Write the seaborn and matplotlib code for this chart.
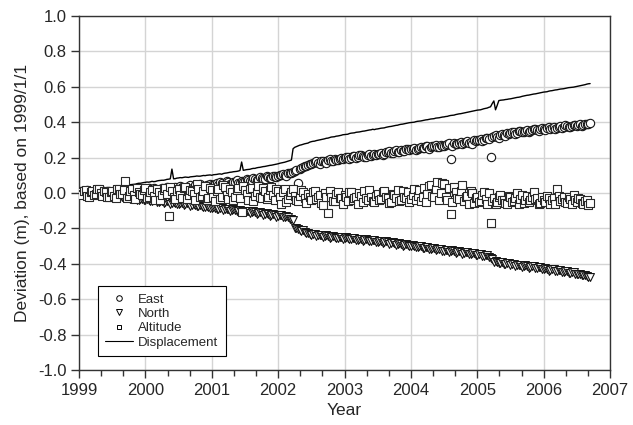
import matplotlib
matplotlib.use("Agg")
import matplotlib.pyplot as plt
from matplotlib.lines import Line2D
from matplotlib.ticker import AutoMinorLocator, MultipleLocator, FormatStrFormatter
import pandas as pd
import seaborn as sns

# sampling epochs (decimal year), two interleaved sets
years = [
    1999.00, 1999.05, 1999.10, 1999.15, 1999.20, 1999.25, 1999.30, 1999.35, 1999.40, 1999.45,
    1999.50, 1999.55, 1999.60, 1999.65, 1999.70, 1999.75, 1999.80, 1999.85, 1999.90, 1999.95,
    2000.00, 2000.05, 2000.10, 2000.15, 2000.20, 2000.25, 2000.30, 2000.35, 2000.40, 2000.45,
    2000.50, 2000.55, 2000.60, 2000.65, 2000.70, 2000.75, 2000.80, 2000.85, 2000.90, 2000.95,
    2001.00, 2001.05, 2001.10, 2001.15, 2001.20, 2001.25, 2001.30, 2001.35, 2001.40, 2001.45,
    2001.50, 2001.55, 2001.60, 2001.65, 2001.70, 2001.75, 2001.80, 2001.85, 2001.90, 2001.95,
    2002.00, 2002.05, 2002.10, 2002.15, 2002.20, 2002.25, 2002.30, 2002.35, 2002.40, 2002.45,
    2002.50, 2002.55, 2002.60, 2002.65, 2002.70, 2002.75, 2002.80, 2002.85, 2002.90, 2002.95,
    2003.00, 2003.05, 2003.10, 2003.15, 2003.20, 2003.25, 2003.30, 2003.35, 2003.40, 2003.45,
    2003.50, 2003.55, 2003.60, 2003.65, 2003.70, 2003.75, 2003.80, 2003.85, 2003.90, 2003.95,
    2004.00, 2004.05, 2004.10, 2004.15, 2004.20, 2004.25, 2004.30, 2004.35, 2004.40, 2004.45,
    2004.50, 2004.55, 2004.60, 2004.65, 2004.70, 2004.75, 2004.80, 2004.85, 2004.90, 2004.95,
    2005.00, 2005.05, 2005.10, 2005.15, 2005.20, 2005.25, 2005.30, 2005.35, 2005.40, 2005.45,
    2005.50, 2005.55, 2005.60, 2005.65, 2005.70, 2005.75, 2005.80, 2005.85, 2005.90, 2005.95,
    2006.00, 2006.05, 2006.10, 2006.15, 2006.20, 2006.25, 2006.30, 2006.35, 2006.40, 2006.45,
    2006.50, 2006.55, 2006.60, 2006.65, 2006.70,
]
years_mid = [
    1999.025, 1999.075, 1999.125, 1999.175, 1999.225, 1999.275, 1999.325, 1999.375, 1999.425, 1999.475,
    1999.525, 1999.575, 1999.625, 1999.675, 1999.725, 1999.775, 1999.825, 1999.875, 1999.925, 1999.975,
    2000.025, 2000.075, 2000.125, 2000.175, 2000.225, 2000.275, 2000.325, 2000.375, 2000.425, 2000.475,
    2000.525, 2000.575, 2000.625, 2000.675, 2000.725, 2000.775, 2000.825, 2000.875, 2000.925, 2000.975,
    2001.025, 2001.075, 2001.125, 2001.175, 2001.225, 2001.275, 2001.325, 2001.375, 2001.425, 2001.475,
    2001.525, 2001.575, 2001.625, 2001.675, 2001.725, 2001.775, 2001.825, 2001.875, 2001.925, 2001.975,
    2002.025, 2002.075, 2002.125, 2002.175, 2002.225, 2002.275, 2002.325, 2002.375, 2002.425, 2002.475,
    2002.525, 2002.575, 2002.625, 2002.675, 2002.725, 2002.775, 2002.825, 2002.875, 2002.925, 2002.975,
    2003.025, 2003.075, 2003.125, 2003.175, 2003.225, 2003.275, 2003.325, 2003.375, 2003.425, 2003.475,
    2003.525, 2003.575, 2003.625, 2003.675, 2003.725, 2003.775, 2003.825, 2003.875, 2003.925, 2003.975,
    2004.025, 2004.075, 2004.125, 2004.175, 2004.225, 2004.275, 2004.325, 2004.375, 2004.425, 2004.475,
    2004.525, 2004.575, 2004.625, 2004.675, 2004.725, 2004.775, 2004.825, 2004.875, 2004.925, 2004.975,
    2005.025, 2005.075, 2005.125, 2005.175, 2005.225, 2005.275, 2005.325, 2005.375, 2005.425, 2005.475,
    2005.525, 2005.575, 2005.625, 2005.675, 2005.725, 2005.775, 2005.825, 2005.875, 2005.925, 2005.975,
    2006.025, 2006.075, 2006.125, 2006.175, 2006.225, 2006.275, 2006.325, 2006.375, 2006.425, 2006.475,
    2006.525, 2006.575, 2006.625, 2006.675,
]

east = [
    0.000, 0.006, -0.004, 0.008, 0.003, 0.012, 0.001, 0.010, 0.004, 0.014,
    0.008, 0.016, 0.006, 0.018, 0.011, 0.020, 0.009, 0.022, 0.014, 0.019,
    0.017, 0.026, 0.012, 0.024, 0.018, 0.030, 0.015, 0.027, 0.021, 0.033,
    0.025, 0.036, 0.028, 0.040, 0.031, 0.045, 0.034, 0.041, 0.038, 0.047,
    0.044, 0.052, 0.046, 0.058, 0.050, 0.061, 0.055, 0.064, 0.058, 0.068,
    0.066, 0.074, 0.070, 0.080, 0.075, 0.086, 0.081, 0.090, 0.087, 0.095,
    0.096, 0.104, 0.101, 0.111, 0.113, 0.124, 0.055, 0.142, 0.150, 0.160,
    0.166, 0.174, 0.170, 0.180, 0.176, 0.186, 0.182, 0.192, 0.188, 0.196,
    0.198, 0.204, 0.196, 0.208, 0.203, 0.212, 0.206, 0.217, 0.211, 0.220,
    0.218, 0.226, 0.221, 0.232, 0.227, 0.238, 0.232, 0.244, 0.238, 0.249,
    0.247, 0.254, 0.249, 0.260, 0.255, 0.263, 0.258, 0.268, 0.262, 0.272,
    0.268, 0.276, 0.190, 0.282, 0.275, 0.288, 0.281, 0.292, 0.286, 0.298,
    0.297, 0.304, 0.300, 0.312, 0.205, 0.322, 0.318, 0.330, 0.326, 0.340,
    0.337, 0.346, 0.341, 0.352, 0.346, 0.356, 0.350, 0.360, 0.355, 0.363,
    0.362, 0.368, 0.361, 0.372, 0.366, 0.376, 0.370, 0.380, 0.374, 0.384,
    0.380, 0.388, 0.383, 0.392, 0.395,
]
east_mid = [
    0.010, -0.002, 0.015, 0.000, 0.007, -0.003, 0.016, 0.002, 0.011, 0.005,
    0.003, 0.013, 0.019, 0.004, 0.024, 0.012, 0.017, 0.006, 0.025, 0.013,
    0.010, 0.021, 0.031, 0.014, 0.022, 0.009, 0.035, 0.020, 0.028, 0.018,
    0.041, 0.022, 0.033, 0.046, 0.026, 0.039, 0.050, 0.030, 0.044, 0.052,
    0.040, 0.057, 0.062, 0.047, 0.068, 0.052, 0.060, 0.071, 0.054, 0.063,
    0.079, 0.065, 0.084, 0.072, 0.090, 0.078, 0.094, 0.084, 0.098, 0.090,
    0.099, 0.108, 0.097, 0.115, 0.118, 0.130, 0.136, 0.146, 0.155, 0.163,
    0.169, 0.178, 0.165, 0.183, 0.172, 0.190, 0.179, 0.186, 0.194, 0.190,
    0.201, 0.192, 0.210, 0.199, 0.215, 0.208, 0.202, 0.222, 0.213, 0.216,
    0.222, 0.215, 0.230, 0.236, 0.224, 0.242, 0.229, 0.237, 0.250, 0.243,
    0.250, 0.244, 0.257, 0.252, 0.266, 0.251, 0.263, 0.272, 0.259, 0.267,
    0.271, 0.282, 0.266, 0.279, 0.285, 0.274, 0.290, 0.284, 0.278, 0.293,
    0.301, 0.295, 0.308, 0.306, 0.316, 0.325, 0.312, 0.335, 0.322, 0.333,
    0.342, 0.336, 0.349, 0.343, 0.353, 0.345, 0.357, 0.362, 0.349, 0.366,
    0.357, 0.371, 0.366, 0.363, 0.375, 0.369, 0.384, 0.372, 0.379, 0.386,
    0.385, 0.378, 0.392, 0.389,
]

north = [
    0.000, -0.004, 0.003, -0.008, -0.006, -0.012, -0.009, -0.015, -0.013, -0.018,
    -0.020, -0.017, -0.025, -0.022, -0.029, -0.027, -0.033, -0.031, -0.037, -0.035,
    -0.040, -0.038, -0.045, -0.042, -0.049, -0.046, -0.053, -0.050, -0.057, -0.055,
    -0.060, -0.058, -0.065, -0.062, -0.070, -0.067, -0.075, -0.072, -0.080, -0.078,
    -0.085, -0.082, -0.089, -0.086, -0.093, -0.090, -0.097, -0.094, -0.101, -0.099,
    -0.105, -0.102, -0.110, -0.107, -0.115, -0.112, -0.120, -0.117, -0.125, -0.122,
    -0.130, -0.127, -0.135, -0.133, -0.145, -0.195, -0.205, -0.212, -0.220, -0.226,
    -0.235, -0.232, -0.240, -0.237, -0.244, -0.241, -0.248, -0.246, -0.252, -0.250,
    -0.255, -0.253, -0.259, -0.256, -0.263, -0.260, -0.267, -0.264, -0.271, -0.268,
    -0.275, -0.272, -0.279, -0.276, -0.284, -0.281, -0.289, -0.286, -0.294, -0.291,
    -0.300, -0.297, -0.304, -0.301, -0.309, -0.306, -0.314, -0.311, -0.319, -0.316,
    -0.325, -0.322, -0.329, -0.326, -0.334, -0.331, -0.339, -0.336, -0.344, -0.341,
    -0.350, -0.347, -0.355, -0.352, -0.365, -0.388, -0.392, -0.396, -0.400, -0.398,
    -0.405, -0.402, -0.409, -0.406, -0.413, -0.410, -0.418, -0.415, -0.423, -0.420,
    -0.430, -0.427, -0.434, -0.431, -0.440, -0.437, -0.445, -0.442, -0.451, -0.448,
    -0.460, -0.457, -0.465, -0.468, -0.476,
]
north_mid = [
    0.004, -0.007, -0.001, -0.011, -0.003, -0.014, -0.006, -0.019, -0.010, -0.021,
    -0.016, -0.026, -0.019, -0.031, -0.024, -0.034, -0.028, -0.039, -0.032, -0.041,
    -0.036, -0.047, -0.040, -0.051, -0.044, -0.056, -0.048, -0.060, -0.052, -0.062,
    -0.056, -0.067, -0.059, -0.071, -0.064, -0.076, -0.068, -0.081, -0.074, -0.086,
    -0.080, -0.091, -0.084, -0.096, -0.088, -0.100, -0.092, -0.104, -0.096, -0.108,
    -0.100, -0.113, -0.104, -0.118, -0.109, -0.123, -0.114, -0.128, -0.119, -0.133,
    -0.125, -0.138, -0.130, -0.148, -0.150, -0.200, -0.210, -0.207, -0.224, -0.230,
    -0.230, -0.243, -0.235, -0.247, -0.240, -0.252, -0.245, -0.256, -0.249, -0.258,
    -0.251, -0.262, -0.254, -0.266, -0.258, -0.270, -0.262, -0.274, -0.266, -0.278,
    -0.270, -0.283, -0.274, -0.288, -0.279, -0.292, -0.284, -0.297, -0.289, -0.302,
    -0.295, -0.307, -0.299, -0.312, -0.304, -0.317, -0.309, -0.322, -0.314, -0.327,
    -0.320, -0.332, -0.324, -0.337, -0.329, -0.342, -0.334, -0.347, -0.339, -0.352,
    -0.345, -0.358, -0.349, -0.362, -0.375, -0.386, -0.395, -0.390, -0.403, -0.396,
    -0.400, -0.412, -0.404, -0.416, -0.408, -0.421, -0.413, -0.426, -0.418, -0.431,
    -0.425, -0.438, -0.429, -0.443, -0.434, -0.448, -0.439, -0.453, -0.444, -0.458,
    -0.455, -0.466, -0.461, -0.472,
]

altitude = [
    0.005, -0.012, 0.018, -0.020, 0.010, -0.006, 0.022, -0.015, 0.004, -0.025,
    0.012, -0.030, 0.020, -0.008, 0.070, -0.018, 0.025, -0.032, 0.008, -0.014,
    0.030, -0.022, 0.015, -0.038, 0.006, -0.010, 0.028, -0.130, 0.012, -0.035,
    0.020, -0.028, 0.034, -0.012, 0.010, -0.040, 0.025, -0.018, 0.040, -0.030,
    0.015, -0.045, 0.022, -0.020, 0.035, -0.032, 0.008, -0.025, 0.030, -0.110,
    0.018, -0.038, 0.026, -0.015, 0.042, -0.030, 0.010, -0.022, 0.036, -0.040,
    0.012, -0.060, 0.025, -0.035, 0.005, -0.018, -0.045, 0.015, -0.030, -0.008,
    -0.040, 0.010, -0.022, -0.055, 0.002, -0.115, -0.020, -0.045, 0.008, -0.030,
    -0.012, -0.048, 0.005, -0.030, -0.060, -0.015, 0.010, -0.040, -0.022, -0.052,
    -0.008, -0.035, 0.012, -0.028, -0.050, -0.010, 0.018, -0.038, -0.020, 0.005,
    -0.032, 0.022, -0.015, -0.045, 0.030, -0.008, 0.045, -0.025, 0.060, -0.002,
    0.050, -0.040, -0.120, 0.035, -0.030, 0.010, -0.048, -0.015, 0.012, -0.055,
    -0.020, -0.045, 0.005, -0.060, -0.170, -0.030, -0.050, -0.010, -0.040, -0.065,
    -0.025, -0.048, 0.002, -0.035, -0.058, -0.018, -0.042, 0.008, -0.030, -0.055,
    -0.038, -0.015, -0.060, -0.028, 0.020, -0.045, -0.022, -0.058, -0.032, -0.010,
    -0.050, -0.035, -0.065, -0.040, -0.055,
]
altitude_mid = [
    -0.005, 0.014, -0.018, 0.008, -0.010, 0.020, -0.002, 0.012, -0.020, 0.006,
    -0.015, 0.024, -0.006, 0.015, -0.028, 0.010, -0.012, 0.030, -0.004, 0.018,
    -0.030, 0.008, -0.018, 0.022, -0.040, 0.015, -0.005, 0.035, -0.020, 0.010,
    -0.012, 0.028, -0.035, 0.018, -0.008, 0.050, -0.025, 0.012, -0.040, 0.030,
    -0.020, 0.010, -0.035, 0.045, -0.010, 0.020, -0.040, 0.015, -0.028, 0.038,
    -0.008, 0.022, -0.045, 0.005, -0.020, 0.030, -0.035, 0.015, -0.012, 0.025,
    -0.025, 0.008, -0.050, -0.010, 0.020, -0.040, -0.015, 0.005, -0.055, -0.020,
    0.005, -0.035, -0.012, -0.070, -0.025, 0.012, -0.045, -0.005, -0.030, -0.060,
    -0.020, 0.008, -0.040, -0.025, 0.000, -0.050, -0.030, 0.015, -0.045, -0.018,
    -0.040, 0.005, -0.022, -0.055, -0.005, -0.030, -0.045, 0.012, -0.028, -0.050,
    -0.010, -0.040, 0.015, -0.025, -0.050, 0.040, -0.018, 0.025, -0.040, 0.055,
    -0.020, 0.030, -0.050, 0.005, -0.035, 0.045, -0.025, -0.060, 0.000, -0.030,
    -0.050, -0.010, -0.035, 0.000, -0.045, -0.065, -0.020, -0.040, -0.055, -0.015,
    -0.050, -0.028, -0.060, -0.010, -0.040, -0.050, -0.022, -0.035, -0.065, -0.020,
    -0.050, -0.030, -0.042, -0.060, -0.015, -0.035, -0.050, -0.025, -0.062, -0.040,
    -0.030, -0.058, -0.045, -0.068,
]

displacement = [
    0.000, 0.004, 0.008, 0.010, 0.013, 0.017, 0.016, 0.021, 0.024, 0.027,
    0.030, 0.031, 0.036, 0.038, 0.045, 0.044, 0.048, 0.050, 0.055, 0.057,
    0.060, 0.061, 0.066, 0.065, 0.070, 0.072, 0.074, 0.078, 0.135, 0.081,
    0.085, 0.086, 0.090, 0.088, 0.092, 0.094, 0.095, 0.097, 0.098, 0.101,
    0.100, 0.104, 0.107, 0.106, 0.112, 0.115, 0.118, 0.121, 0.124, 0.175,
    0.130, 0.133, 0.137, 0.139, 0.144, 0.147, 0.150, 0.154, 0.157, 0.161,
    0.165, 0.170, 0.174, 0.180, 0.186, 0.258, 0.266, 0.272, 0.278, 0.282,
    0.290, 0.293, 0.298, 0.302, 0.306, 0.310, 0.316, 0.318, 0.322, 0.326,
    0.330, 0.332, 0.338, 0.340, 0.344, 0.347, 0.350, 0.354, 0.357, 0.358,
    0.362, 0.366, 0.368, 0.373, 0.376, 0.380, 0.383, 0.388, 0.391, 0.395,
    0.398, 0.400, 0.405, 0.407, 0.411, 0.414, 0.418, 0.420, 0.424, 0.427,
    0.430, 0.433, 0.438, 0.440, 0.445, 0.448, 0.452, 0.456, 0.460, 0.464,
    0.468, 0.470, 0.476, 0.480, 0.487, 0.520, 0.495, 0.524, 0.526, 0.529,
    0.532, 0.536, 0.540, 0.543, 0.548, 0.552, 0.555, 0.559, 0.562, 0.566,
    0.570, 0.572, 0.577, 0.580, 0.583, 0.587, 0.589, 0.593, 0.596, 0.598,
    0.602, 0.606, 0.610, 0.615, 0.618,
]
displacement_mid = [
    0.003, 0.006, 0.010, 0.011, 0.016, 0.015, 0.019, 0.023, 0.025, 0.029,
    0.031, 0.034, 0.037, 0.042, 0.043, 0.047, 0.049, 0.053, 0.055, 0.059,
    0.062, 0.063, 0.064, 0.068, 0.071, 0.072, 0.077, 0.080, 0.080, 0.084,
    0.087, 0.088, 0.089, 0.091, 0.093, 0.096, 0.095, 0.099, 0.100, 0.102,
    0.103, 0.105, 0.108, 0.110, 0.113, 0.117, 0.120, 0.122, 0.127, 0.128,
    0.132, 0.134, 0.139, 0.142, 0.145, 0.149, 0.152, 0.156, 0.159, 0.163,
    0.168, 0.172, 0.177, 0.183, 0.250, 0.262, 0.270, 0.275, 0.280, 0.287,
    0.292, 0.296, 0.300, 0.304, 0.309, 0.313, 0.317, 0.321, 0.324, 0.329,
    0.331, 0.336, 0.339, 0.343, 0.345, 0.349, 0.352, 0.356, 0.360, 0.361,
    0.364, 0.367, 0.371, 0.375, 0.378, 0.382, 0.386, 0.389, 0.393, 0.397,
    0.399, 0.403, 0.406, 0.409, 0.413, 0.416, 0.419, 0.423, 0.425, 0.429,
    0.432, 0.436, 0.439, 0.443, 0.447, 0.450, 0.454, 0.458, 0.462, 0.466,
    0.469, 0.473, 0.478, 0.484, 0.505, 0.470, 0.522, 0.525, 0.528, 0.531,
    0.534, 0.538, 0.541, 0.546, 0.550, 0.553, 0.557, 0.560, 0.564, 0.568,
    0.571, 0.575, 0.578, 0.582, 0.585, 0.588, 0.591, 0.595, 0.597, 0.600,
    0.604, 0.608, 0.612, 0.617,
]

sns.set_style("whitegrid")
plt.rcParams["font.family"] = ["Liberation Sans", "DejaVu Sans"]
plt.rcParams["axes.unicode_minus"] = False

df = pd.concat([
    pd.DataFrame({"Year": years, "East": east, "North": north,
                  "Altitude": altitude, "Displacement": displacement}),
    pd.DataFrame({"Year": years_mid, "East": east_mid, "North": north_mid,
                  "Altitude": altitude_mid, "Displacement": displacement_mid}),
]).sort_values("Year").reset_index(drop=True)

fig = plt.figure(figsize=(6.33, 4.25), dpi=100)
ax = fig.add_axes([0.1248, 0.1294, 0.8389, 0.8330])

edge = "#151515"
sns.lineplot(data=df, x="Year", y="Displacement", ax=ax, color="black", lw=1.0,
             sort=True, zorder=3)
sns.scatterplot(data=df, x="Year", y="North", ax=ax, marker="v", s=32,
                facecolor="white", edgecolor=edge, linewidth=0.8, zorder=4)
sns.scatterplot(data=df, x="Year", y="East", ax=ax, marker="o", s=36,
                facecolor="white", edgecolor=edge, linewidth=0.8, zorder=4)
sns.scatterplot(data=df, x="Year", y="Altitude", ax=ax, marker="s", s=28,
                facecolor="white", edgecolor="#2a2a2a", linewidth=0.8, zorder=5)

ax.set_xlim(1999, 2007)
ax.set_ylim(-1.0, 1.0)
ax.xaxis.set_major_locator(MultipleLocator(1))
ax.xaxis.set_minor_locator(AutoMinorLocator(3))
ax.yaxis.set_major_locator(MultipleLocator(0.2))
ax.yaxis.set_major_formatter(FormatStrFormatter("%.1f"))
ax.grid(True, which="major", color="#d4d4d4", lw=1)
ax.grid(False, which="minor")

for side in ["left", "bottom", "top", "right"]:
    ax.spines[side].set_color("#333333")
    ax.spines[side].set_linewidth(1)

ax.tick_params(which="major", direction="out", length=6, width=1, color="#333333",
               labelsize=12, bottom=True, left=True, pad=3)
ax.tick_params(which="minor", axis="x", direction="out", length=4, width=1,
               color="#333333", bottom=True)

ax.set_xlabel("Year", fontsize=12.5, labelpad=4)
ax.set_ylabel("Deviation (m), based on 1999/1/1", fontsize=12.5, labelpad=6)

handles = [
    Line2D([], [], ls="none", marker="o", ms=4, mfc="white", mec="black", mew=0.7),
    Line2D([], [], ls="none", marker="v", ms=4, mfc="white", mec="black", mew=0.7),
    Line2D([], [], ls="none", marker="s", ms=3.5, mfc="white", mec="black", mew=0.7),
    Line2D([], [], color="black", lw=0.8),
]
leg = ax.legend(handles, ["East", "North", "Altitude", "Displacement"],
                loc="lower left", bbox_to_anchor=(0.036, 0.04), borderaxespad=0,
                fontsize=9.5, frameon=True, fancybox=False, handlelength=2.1,
                labelspacing=0.16, handletextpad=0.4, borderpad=0.55)
leg.get_frame().set_edgecolor("black")
leg.get_frame().set_linewidth(0.8)
leg.get_frame().set_alpha(1)
leg.set_zorder(10)

fig.savefig("out.png", dpi=100)
